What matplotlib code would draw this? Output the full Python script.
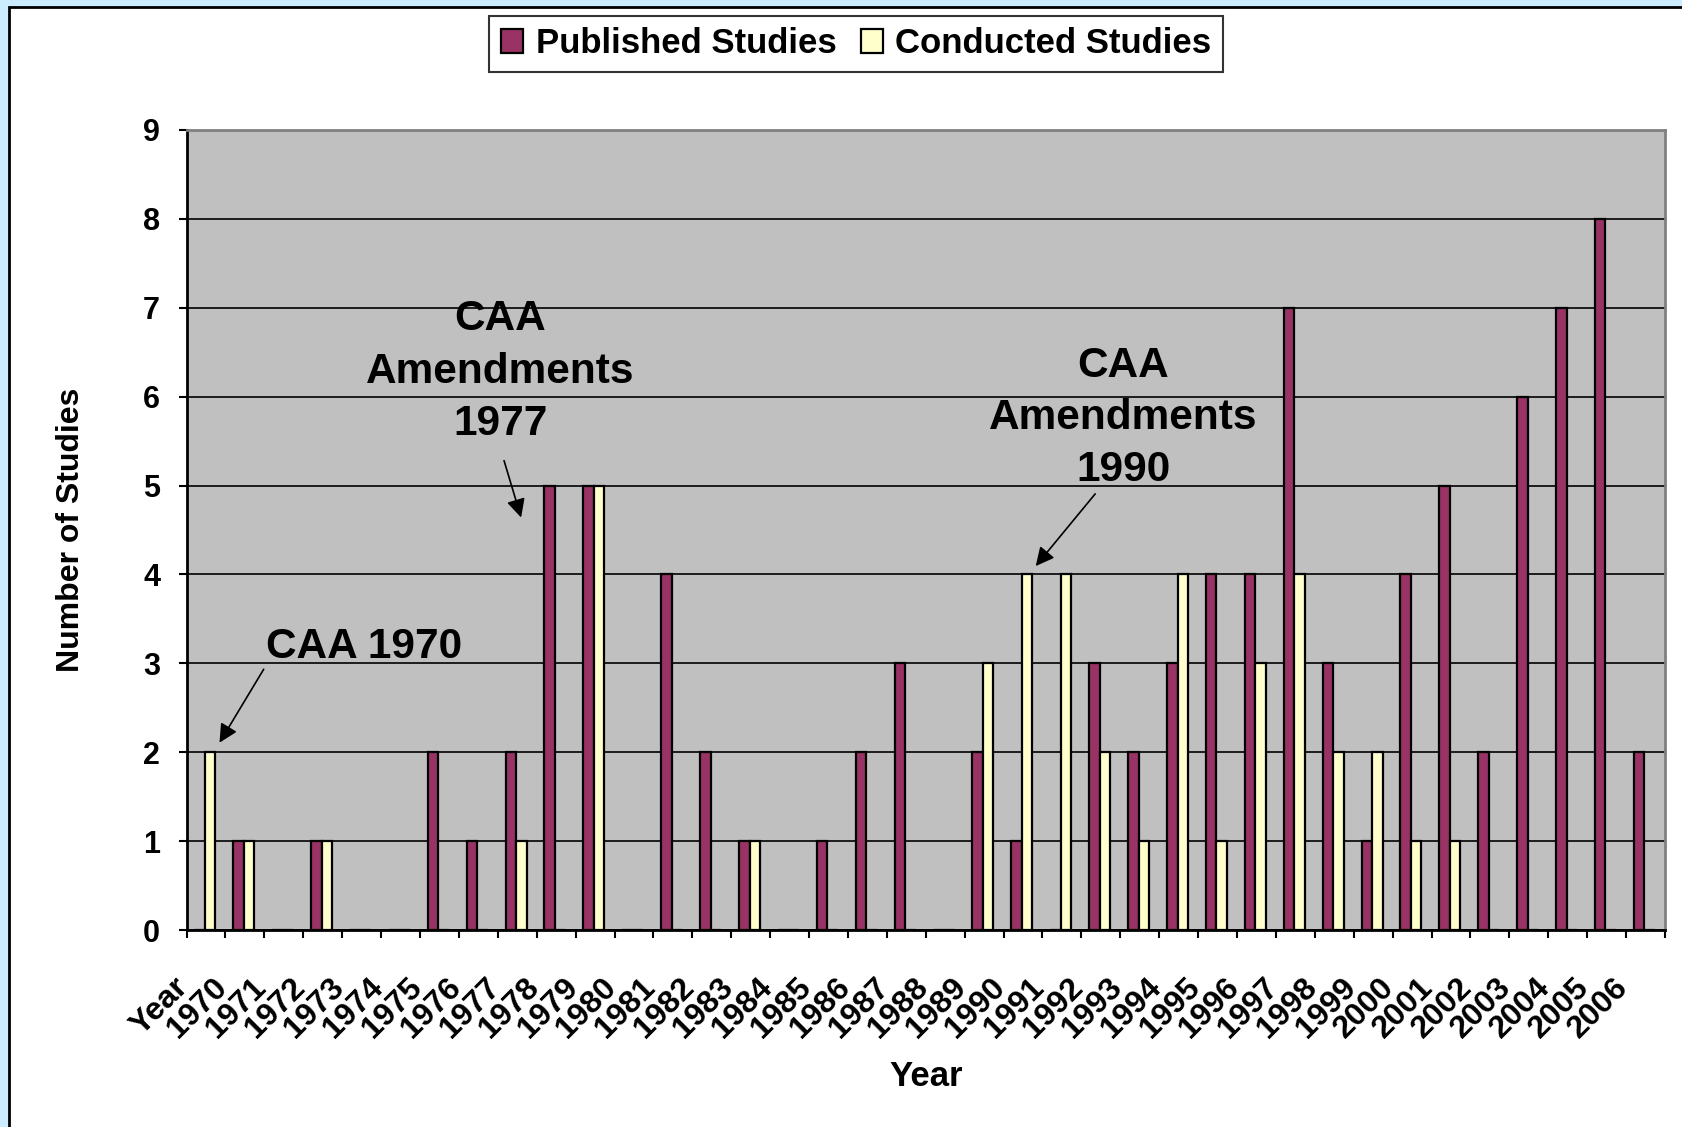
import matplotlib
matplotlib.use('Agg')
import matplotlib.pyplot as plt
import matplotlib.patches as mpatches
import matplotlib.transforms as mtransforms
import numpy as np

plt.rcParams['font.family'] = ['Liberation Sans', 'DejaVu Sans']
plt.rcParams['font.weight'] = 'bold'

# studies per year (first category is the "Year" header row)
years = ['Year'] + [str(y) for y in range(1970, 2007)]
published = [0, 1, 0, 1, 0, 0, 2, 1, 2, 5, 5, 0, 4, 2, 1, 0, 1, 2, 3, 0,
             2, 1, 0, 3, 2, 3, 4, 4, 7, 3, 1, 4, 5, 2, 6, 7, 8, 2]
conducted = [2, 1, 0, 1, 0, 0, 0, 0, 1, 0, 5, 0, 0, 0, 1, 0, 0, 0, 0, 0,
             3, 4, 4, 2, 1, 4, 1, 3, 4, 2, 2, 1, 1, 0, 0, 0, 0, 0]

maroon = '#993366'
cream = '#FFFFCC'

fig = plt.figure(figsize=(16.82, 11.27), dpi=100)
fig.patch.set_facecolor('#CCECFF')
# white chart area with a black frame line
fig.patches.append(mpatches.Rectangle((9 / 1682, -0.02), 1.05, 1 - 7 / 1127 + 0.02,
                                      transform=fig.transFigure, facecolor='white',
                                      edgecolor='black', lw=2, zorder=-10))

ax = fig.add_axes([0.1109, 0.1748, 0.8790, 0.7099])
ax.set_facecolor('#C0C0C0')

x = np.arange(len(years))
w = 0.27
ax.bar(x - w / 2 - 0.03, published, w, color=maroon, edgecolor='black', lw=1.6,
       label='Published Studies', zorder=3)
ax.bar(x + w / 2 - 0.03, conducted, w, color=cream, edgecolor='black', lw=1.6,
       label='Conducted Studies', zorder=3)

ax.set_xlim(-0.5, len(years) - 0.5)
ax.set_ylim(0, 9)
ax.set_yticks(range(0, 10))
ax.yaxis.grid(True, color='black', lw=1.2)
ax.set_axisbelow(True)

# tick marks between categories, labels at category centres
ax.set_xticks(np.arange(-0.5, len(years)))
ax.set_xticklabels([])
ax.set_xticks(x, minor=True)
ax.set_xticklabels(years, minor=True, rotation=45, ha='right', va='center',
                   rotation_mode='anchor', fontsize=23, fontweight='bold')
ax.tick_params(axis='x', which='major', length=6, width=1.5, direction='out')
ax.tick_params(axis='x', which='minor', length=0, pad=38)
shift = mtransforms.ScaledTranslation(-0.22, 0, fig.dpi_scale_trans)
for lab in ax.get_xticklabels(minor=True):
    lab.set_transform(lab.get_transform() + shift)

ax.tick_params(axis='y', length=6, width=1.5, pad=13, labelsize=22)
for lab in ax.get_yticklabels():
    lab.set_fontweight('bold')

for side in ['left', 'bottom']:
    ax.spines[side].set_color('black')
    ax.spines[side].set_linewidth(2)
for side in ['top', 'right']:
    ax.spines[side].set_color('#808080')
    ax.spines[side].set_linewidth(2)

ax.set_ylabel('Number of Studies', fontsize=23, fontweight='bold')
ax.yaxis.set_label_coords(-0.068, 0.5)
ax.set_xlabel('Year', fontsize=25, fontweight='bold')
ax.xaxis.set_label_coords(0.5, -0.162)

# annotations for the Clean Air Act milestones
ann = dict(fontsize=30.5, fontweight='bold', ha='center', va='center', linespacing=1.4)
arrow = dict(arrowstyle='-|>', color='black', lw=1.2, mutation_scale=28)
ax.text(4.07, 3.18, 'CAA 1970', **ann)
ax.annotate('', xy=(0.31, 2.08), xytext=(1.52, 2.96), arrowprops=arrow)
ax.text(7.56, 6.28, 'CAA\nAmendments\n1977', **ann)
ax.annotate('', xy=(8.12, 4.61), xytext=(7.64, 5.31), arrowprops=arrow)
ax.text(23.57, 5.76, 'CAA\nAmendments\n1990', **ann)
ax.annotate('', xy=(21.28, 4.07), xytext=(22.9, 4.93), arrowprops=arrow)

leg = fig.legend(loc='upper center', bbox_to_anchor=(0.509, 0.986), ncol=2,
                 fontsize=25, frameon=True, fancybox=False, edgecolor='black',
                 handlelength=0.65, handleheight=0.65, handletextpad=0.35,
                 columnspacing=0.7, borderpad=0.33, borderaxespad=0)
leg.get_frame().set_linewidth(1.5)
for t in leg.get_texts():
    t.set_fontweight('bold')

fig.savefig('out.png', dpi=100, facecolor=fig.get_facecolor())
